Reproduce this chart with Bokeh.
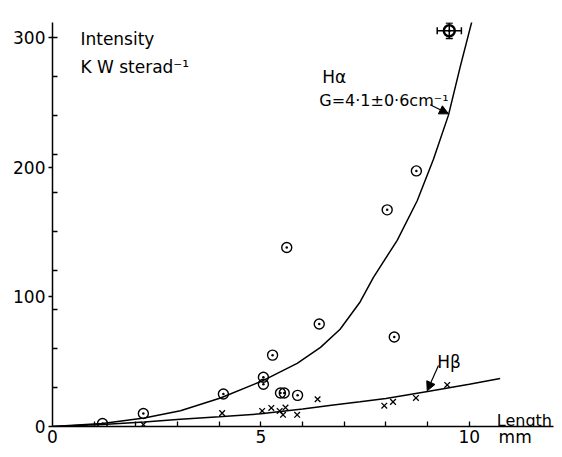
from bokeh.plotting import figure
from bokeh.models import (Range1d, FixedTicker, Label, Arrow, NormalHead,
                          Whisker, TeeHead, ColumnDataSource)
from bokeh.embed import file_html
from bokeh.resources import INLINE

# ---- data ----
# H-alpha measurements (circles), length in mm, intensity in kW sterad^-1
ha_length = [1.2, 2.18, 4.1, 5.06, 5.06, 5.28, 5.47, 5.56, 5.88, 5.62, 6.4, 8.2, 8.03, 8.73]
ha_intensity = [2.3, 10, 25, 38, 32.6, 55, 25.8, 25.8, 24, 138, 79, 69, 167, 197]
# highlighted point with error bars
ha_top_length = [9.52]
ha_top_intensity = [305]
ha_top_xerr = [0.29]
ha_top_yerr = [6]
# H-alpha fitted curve
ha_fit_length = [0, 1.2, 2.2, 3.07, 4.03, 5.06, 5.87, 6.43, 6.9, 7.38, 7.7, 8.27, 8.75, 9.14, 9.5, 9.78, 10.1]
ha_fit_intensity = [0, 2.3, 6.5, 12.2, 22, 35.5, 48.6, 61, 75, 96, 115, 143.5, 174, 206, 240, 277, 317]
# H-beta measurements (crosses)
hb_length = [2.18, 4.07, 5.03, 5.25, 5.45, 5.53, 5.59, 5.87, 6.36, 7.96, 8.17, 8.72, 9.47]
hb_intensity = [1.5, 10.3, 12, 14.3, 12, 9, 14.6, 9, 21, 16, 19, 22, 32]
# H-beta fitted curve
hb_fit_length = [0, 1.2, 2.2, 3.07, 4.0, 5.0, 6.0, 6.74, 7.38, 8.0, 9.0, 10.0, 10.74]
hb_fit_intensity = [0, 1.5, 3.5, 5.5, 7.5, 9.8, 13.5, 16.5, 19, 21.5, 27, 32.5, 37]

x_ticks = [0, 5, 10, 11.1]
x_tick_labels = {11.1: "mm"}
x_minor = [1, 2, 3, 4, 5, 6, 7, 8, 9, 10]
y_ticks = [0, 100, 200, 300]
y_minor = [30, 60, 90, 120, 150, 180, 210, 240, 270, 300]

FONT = "DejaVu Sans"

p = figure(width=554, height=449, output_backend="svg", toolbar_location=None,
           x_range=Range1d(0, 12.02), y_range=Range1d(0, 311.4),
           min_border_left=52, min_border_right=1, min_border_top=22, min_border_bottom=20)
p.xgrid.visible = False
p.ygrid.visible = False
p.outline_line_color = None
p.background_fill_color = "white"
p.border_fill_color = "white"

for ax in (p.xaxis[0], p.yaxis[0]):
    ax.axis_line_width = 1.5
    ax.axis_line_color = "black"
    ax.major_label_text_font = FONT
    ax.major_label_text_font_size = "17px"
    ax.major_label_text_color = "black"
    ax.major_tick_line_color = "black"
    ax.minor_tick_line_color = "black"
    ax.major_tick_line_width = 1.3
    ax.minor_tick_line_width = 1.3

xa = p.xaxis[0]
xa.ticker = FixedTicker(ticks=x_ticks, minor_ticks=x_minor)
xa.major_label_overrides = x_tick_labels
xa.major_tick_in = 0
xa.major_tick_out = 0
xa.minor_tick_in = 5
xa.minor_tick_out = 0
xa.major_label_standoff = 0

ya = p.yaxis[0]
ya.ticker = FixedTicker(ticks=y_ticks, minor_ticks=y_minor)
ya.major_tick_in = 0
ya.major_tick_out = 4
ya.minor_tick_in = 5
ya.minor_tick_out = 0
ya.major_label_standoff = 3

# fitted curves
p.line(ha_fit_length, ha_fit_intensity, line_color="black", line_width=1.5)
p.line(hb_fit_length, hb_fit_intensity, line_color="black", line_width=1.5)

# measurements
p.scatter(ha_length, ha_intensity, marker="circle_dot", size=10, line_color="black",
          line_width=1.4, fill_color=None)
p.scatter(hb_length, hb_intensity, marker="x", size=8, line_color="black", line_width=1.3)

# highlighted point with error bars
err_src = ColumnDataSource(dict(
    x=ha_top_length, y=ha_top_intensity,
    xlo=[a - e for a, e in zip(ha_top_length, ha_top_xerr)],
    xhi=[a + e for a, e in zip(ha_top_length, ha_top_xerr)],
    ylo=[a - e for a, e in zip(ha_top_intensity, ha_top_yerr)],
    yhi=[a + e for a, e in zip(ha_top_intensity, ha_top_yerr)],
))
p.add_layout(Whisker(source=err_src, base="x", lower="ylo", upper="yhi", dimension="height",
                     line_width=1.5, upper_head=TeeHead(size=7, line_width=1.5),
                     lower_head=TeeHead(size=7, line_width=1.5)))
p.add_layout(Whisker(source=err_src, base="y", lower="xlo", upper="xhi", dimension="width",
                     line_width=1.5, upper_head=TeeHead(size=7, line_width=1.5),
                     lower_head=TeeHead(size=7, line_width=1.5)))
p.scatter("x", "y", source=err_src, marker="circle_dot", size=11, line_color="black",
          line_width=2.5, fill_color=None)

# texts
def lab(x, y, text, size="17px"):
    p.add_layout(Label(x=x, y=y, text=text, text_font=FONT, text_font_size=size,
                       text_color="black", text_baseline="alphabetic", text_align="left"))

lab(0.67, 299, "Intensity")
lab(0.67, 277, "K W sterad⁻¹")
lab(6.47, 269.6, "Hα")
lab(6.40, 251, "G=4·1±0·6cm⁻¹", "16px")
lab(9.23, 50, "Hβ")
lab(10.66, 5, "Length", "16px")

# arrows
p.add_layout(Arrow(end=NormalHead(size=9, fill_color="black", line_color="black"),
                   x_start=9.06, y_start=248, x_end=9.5, y_end=241,
                   line_width=1.2, line_color="black"))
p.add_layout(Arrow(end=NormalHead(size=9, fill_color="black", line_color="black"),
                   x_start=9.26, y_start=47, x_end=8.99, y_end=27.5,
                   line_width=1.2, line_color="black"))

open("out.html", "w").write(file_html(p, INLINE))
